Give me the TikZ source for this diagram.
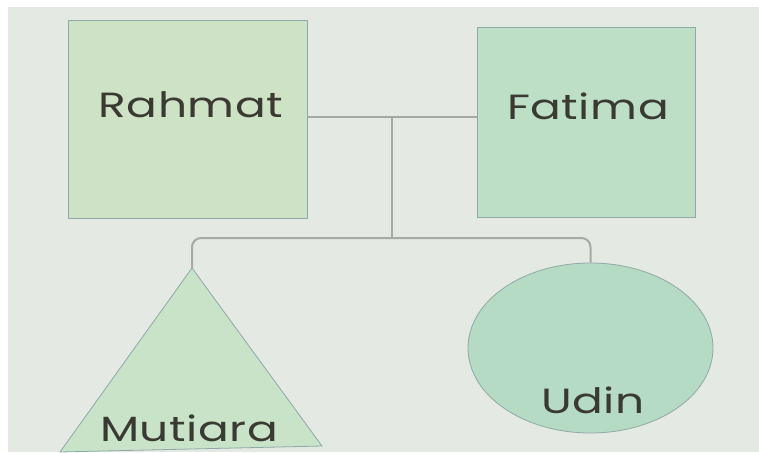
\documentclass[tikz,border=0pt]{standalone}
\usepackage{fontspec}
\setmainfont{Poppins}[FakeStretch=1.3, LetterSpace=1.5]
\usepackage{xcolor}
\usetikzlibrary{shapes.geometric}

\definecolor{paper}{HTML}{E4E9E3}
\definecolor{ink}{HTML}{3B3A32}
\definecolor{edge}{HTML}{8FA9A8}
\definecolor{wire}{HTML}{A6AAA4}
\definecolor{greenA}{HTML}{CEE3C6}
\definecolor{greenB}{HTML}{BCDFC6}
\definecolor{greenC}{HTML}{C8E3C8}
\definecolor{greenD}{HTML}{B6DBC4}

\begin{document}
\begin{tikzpicture}[x=1pt, y=-1pt,
	person/.style={draw=edge, line width=0.8pt, inner sep=0pt},
	nametext/.style={text=ink, inner sep=0pt, anchor=base, font=\fontsize{35}{35}\selectfont},
	wireline/.style={draw=wire, line width=2pt}]
					\useasboundingbox (0,0) rectangle (759,452);
					\fill[white] (0,0) rectangle (759,452);
					\fill[paper] (8,7) rectangle (759,452);

					% parents
					\draw
						(187.5,119) node[person, fill=greenA, rectangle, minimum width=239pt, minimum height=198pt] (rahmat) {}
						(586,122) node[person, fill=greenB, rectangle, minimum width=218pt, minimum height=190pt] (fatima) {};

					% children
					\coordinate (mutiaraTop) at (192,268);
					\draw[edge, line width=0.8pt, fill=greenC]
						(mutiaraTop) -- (322,446) -- (60,452) -- cycle;
					\draw
						(590.5,348) node[person, fill=greenD, ellipse, minimum width=245pt, minimum height=170pt] (udin) {};

					% connectors
					\coordinate (mid) at (392,117);
					\coordinate (sib) at (392,238);
					\draw[wireline]
						(rahmat.east |- mid) -- (fatima.west |- mid);
					\draw[wireline]
						(mid) -- (sib);
					\draw[wireline, rounded corners=9pt]
						(mutiaraTop) |- (sib) -| (udin.north);

					% names
					\draw
						(191,117) node[nametext] (rahmatName) {Rahmat}
						(588,119) node[nametext] (fatimaName) {Fatima}
						(189,441) node[nametext] (mutiaraName) {Mutiara}
						(593,413) node[nametext] (udinName) {Udin};
				\end{tikzpicture}
\end{document}
